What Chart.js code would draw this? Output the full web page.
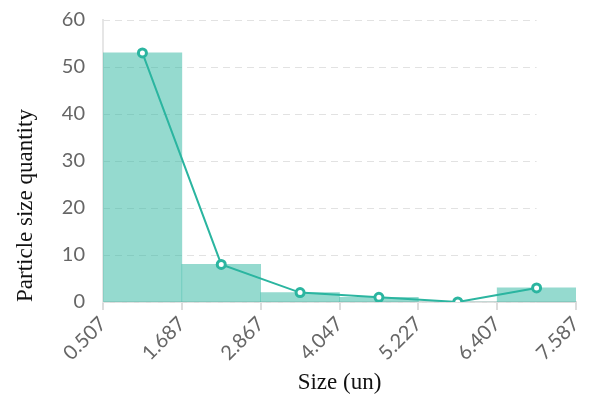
<!DOCTYPE html>
<html>
<head>
<meta charset="utf-8">
<script src="https://cdn.jsdelivr.net/npm/chart.js@4"></script>
<style>
  html, body { margin: 0; padding: 0; background: #fff; }
  #wrap { width: 591px; height: 402px; }
</style>
</head>
<body>
<div id="wrap"><canvas id="chart" width="591" height="402"></canvas></div>
<script>
// bin edges (tick labels) and counts
const binEdges = [0.507, 1.687, 2.867, 4.047, 5.227, 6.407, 7.587];
const binCounts = [53, 8, 2, 1, 0, 3];
const yTicks = [0, 10, 20, 30, 40, 50, 60];

const teal = '#2bb5a0';
const barFill = 'rgba(43, 181, 160, 0.5)';

// bin centers, used for both bars and the line points
const centers = binCounts.map((c, i) => (binEdges[i] + binEdges[i + 1]) / 2);
const points = binCounts.map((c, i) => ({ x: centers[i], y: c }));

// dashed gridlines that stop at the last bin centre
const gridPlugin = {
  id: 'dashGrid',
  beforeDatasetsDraw(chart) {
    const { ctx, chartArea, scales } = chart;
    const xEnd = scales.x.getPixelForValue(centers[centers.length - 1]);
    ctx.save();
    ctx.strokeStyle = '#e2e2e2';
    ctx.lineWidth = 1;
    ctx.setLineDash([7, 5]);
    yTicks.forEach(v => {
      const y = Math.round(scales.y.getPixelForValue(v)) + 0.5;
      ctx.beginPath();
      ctx.moveTo(chartArea.left, y);
      ctx.lineTo(xEnd, y);
      ctx.stroke();
    });
    ctx.restore();
  }
};

new Chart(document.getElementById('chart'), {
  data: {
    datasets: [{
      type: 'line',
      data: points,
      borderColor: teal,
      borderWidth: 2,
      pointRadius: 4,
      pointBorderWidth: 3,
      pointBackgroundColor: '#fff',
      pointBorderColor: teal,
      tension: 0,
      order: 0
    }, {
      type: 'bar',
      data: points,
      backgroundColor: barFill,
      borderWidth: 0,
      barPercentage: 1,
      categoryPercentage: 1,
      grouped: false,
      order: 1
    }]
  },
  options: {
    responsive: false,
    animation: false,
    layout: { padding: { top: 20, right: 15, left: 0, bottom: 0 } },
    plugins: { legend: { display: false }, tooltip: { enabled: false } },
    scales: {
      x: {
        type: 'linear',
        offset: false,
        min: binEdges[0],
        max: binEdges[binEdges.length - 1],
        afterBuildTicks(scale) { scale.ticks = binEdges.map(v => ({ value: v })); },
        afterFit(scale) {
          scale.height = 100;
          scale.paddingLeft = 0; scale.paddingRight = 0;
          scale.paddingTop = 0; scale.paddingBottom = 0;
        },
        ticks: {
          autoSkip: false,
          maxRotation: 45,
          minRotation: 45,
          color: '#666',
          font: { family: 'Lato', size: 20 },
          padding: 2,
          callback: v => v.toFixed(3)
        },
        grid: { drawOnChartArea: false, offset: false, color: '#dcdcdc', tickLength: 8, lineWidth: 2 },
        border: { color: '#dcdcdc', width: 2 },
        title: {
          display: true,
          text: 'Size (un)',
          color: '#111',
          font: { family: 'Liberation Serif', size: 23 },
          padding: { top: 0, bottom: 5 }
        }
      },
      y: {
        min: 0,
        max: 60,
        afterBuildTicks(scale) { scale.ticks = yTicks.map(v => ({ value: v })); },
        afterFit(scale) {
          scale.width = 103;
          scale.paddingTop = 0; scale.paddingBottom = 0;
        },
        ticks: {
          color: '#666',
          font: { family: 'Lato', size: 20 },
          padding: 18
        },
        grid: { display: false, drawTicks: false },
        border: { color: '#e6e6e6', width: 2 },
        title: {
          display: true,
          align: 'start',
          text: 'Particle size quantity',
          color: '#111',
          font: { family: 'Liberation Serif', size: 23 },
          padding: { top: 12, bottom: 6 }
        }
      }
    }
  },
  plugins: [gridPlugin]
});
</script>
</body>
</html>
